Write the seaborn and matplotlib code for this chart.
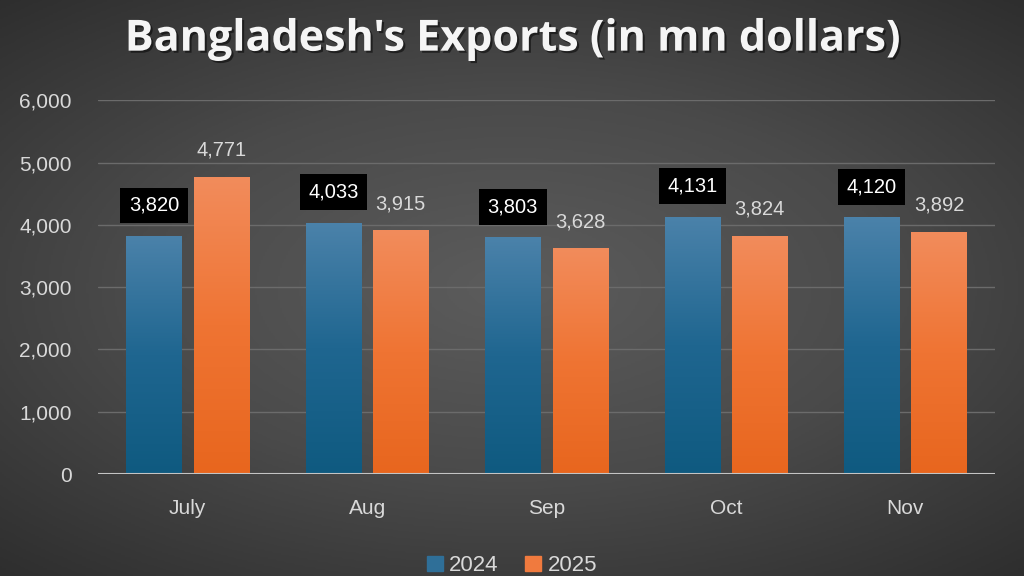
import numpy as np
import pandas as pd
import matplotlib
matplotlib.use("Agg")
import matplotlib.pyplot as plt
import matplotlib.patheffects as pe
import seaborn as sns
from matplotlib.colors import LinearSegmentedColormap
from matplotlib.patches import Rectangle

# data
months = ["July", "Aug", "Sep", "Oct", "Nov"]
exports_2024 = [3820, 4033, 3803, 4131, 4120]
exports_2025 = [4771, 3915, 3628, 3824, 3892]
years = ["2024", "2025"]

df = pd.DataFrame({
    "Month": months * 2,
    "Year": [years[0]] * len(months) + [years[1]] * len(months),
    "Exports": exports_2024 + exports_2025,
})

sns.set_theme(style="dark")
plt.rcParams["font.family"] = ["Liberation Sans", "DejaVu Sans"]

fig = plt.figure(figsize=(10.24, 5.76), dpi=100)

# radial grey background
bg = fig.add_axes([0, 0, 1, 1], zorder=-10)
yy, xx = np.mgrid[-1:1:300j, -1:1:500j]
r = np.sqrt((xx * 0.9) ** 2 + (yy * 1.0) ** 2)
bg.imshow(r, cmap=LinearSegmentedColormap.from_list("bg", ["#5c5c5c", "#4a4a4a", "#2e2e2e"]),
          aspect="auto", extent=[0, 1, 0, 1], vmin=0, vmax=1.35)
bg.axis("off")

ax = fig.add_axes([0.0957, 0.177, 0.876, 0.649])
ax.set_facecolor("none")

colors = {"2024": "#2f6f98", "2025": "#f07a3e"}
sns.barplot(data=df, x="Month", y="Exports", hue="Year", palette=colors,
            width=0.75, gap=0.18, ax=ax, legend=False, zorder=3)

# vertical gradient fill on each bar
grads = {
    "2024": LinearSegmentedColormap.from_list("b", ["#0f5a80", "#1f6690", "#4b82aa"]),
    "2025": LinearSegmentedColormap.from_list("o", ["#e8661e", "#ef7433", "#f28c5c"]),
}
grad = np.linspace(0, 1, 256).reshape(-1, 1)
for cont, yr in zip(ax.containers, years):
    for bar in cont:
        x0, w, h = bar.get_x(), bar.get_width(), bar.get_height()
        im = ax.imshow(grad, cmap=grads[yr], origin="lower", aspect="auto",
                       extent=[x0, x0 + w, 0, h], zorder=3.5)
        im.set_clip_path(bar)
        bar.set_edgecolor("none")

ax.set_xlim(-0.5, 4.5)
ax.set_ylim(0, 6000)
ax.set_yticks(range(0, 6001, 1000))
ax.set_yticklabels([f"{v:,}" for v in range(0, 6001, 1000)])
ax.grid(axis="y", color="#6b6b6b", linewidth=1.0, zorder=0)
ax.grid(axis="x", visible=False)
ax.axhline(0, color="#c4c4c4", linewidth=1.5, zorder=4)
for s in ax.spines.values():
    s.set_visible(False)
ax.tick_params(axis="y", colors="#d9d9d9", labelsize=15, length=0, pad=19)
ax.tick_params(axis="x", colors="#d9d9d9", labelsize=15, length=0, pad=18)
ax.set_xlabel("")
ax.set_ylabel("")

# data labels
c24, c25 = ax.containers[0], ax.containers[1]
for bar, v in zip(c24, exports_2024):
    ax.annotate(f"{v:,}", (bar.get_x() + bar.get_width() / 2, v), xytext=(0, 22),
                textcoords="offset points", ha="center", va="center", color="white",
                fontsize=14.5, zorder=6,
                bbox=dict(boxstyle="square,pad=0.42", fc="black", ec="none"))
for bar, v in zip(c25, exports_2025):
    ax.annotate(f"{v:,}", (bar.get_x() + bar.get_width() / 2, v), xytext=(0, 19),
                textcoords="offset points", ha="center", va="center", color="#d9d9d9",
                fontsize=14.5, zorder=6)

fig.text(0.5, 0.932, "Bangladesh's Exports (in mn dollars)", ha="center", va="center",
         color="#f5f5f5", fontsize=31, fontweight="bold",
         family=["Open Sans", "DejaVu Sans"],
         path_effects=[pe.withSimplePatchShadow(offset=(1.5, -1.5), shadow_rgbFace="black", alpha=0.5)])

handles = [Rectangle((0, 0), 1, 1, color=colors[y]) for y in years]
fig.legend(handles, years, loc="center", bbox_to_anchor=(0.5, 0.018), ncol=2,
           frameon=False, fontsize=16, labelcolor="#d9d9d9", handlelength=0.7,
           handleheight=0.7, handletextpad=0.3, columnspacing=1.2)

fig.savefig("out.png", dpi=100)
